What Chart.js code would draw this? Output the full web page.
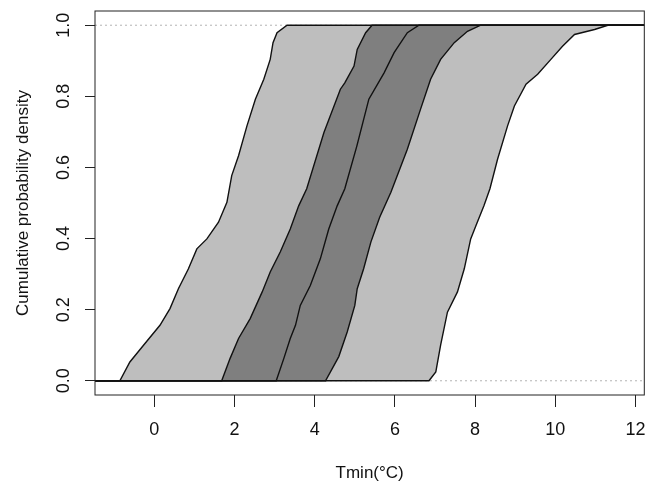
<!DOCTYPE html>
<html>
<head>
<meta charset="utf-8">
<script src="https://cdn.jsdelivr.net/npm/chart.js@4.4.0/dist/chart.umd.min.js"></script>
<style>
  html, body { margin: 0; padding: 0; background: #fff; }
  #wrap { width: 646px; height: 482px; position: relative; }
</style>
</head>
<body>
<div id="wrap"><canvas id="chart"></canvas></div>
<script>
const X_MIN = -1.48, X_MAX = 12.22;
const Y_MIN = -0.04, Y_MAX = 1.04;
const X_TICKS = [0, 2, 4, 6, 8, 10, 12];
const Y_TICKS = [0, 0.2, 0.4, 0.6, 0.8, 1.0];

// leftmost curve (left edge of the light band)
const curveAX = [-0.86, -0.61, -0.27, 0.14, 0.39, 0.60, 0.85, 1.06, 1.31, 1.60, 1.81, 1.93, 2.10, 2.31, 2.52, 2.73, 2.89, 2.96, 3.06, 3.31];
const curveAY = [0.0, 0.053, 0.10, 0.156, 0.203, 0.259, 0.315, 0.371, 0.399, 0.446, 0.502, 0.577, 0.633, 0.717, 0.792, 0.848, 0.904, 0.951, 0.979, 1.0];

// left edge of the dark band
const curveBX = [1.68, 1.89, 2.10, 2.39, 2.69, 2.89, 3.14, 3.39, 3.60, 3.80, 4.23, 4.64, 4.75, 4.98, 5.06, 5.27, 5.43];
const curveBY = [0.0, 0.063, 0.119, 0.175, 0.25, 0.306, 0.362, 0.427, 0.492, 0.54, 0.698, 0.82, 0.838, 0.885, 0.932, 0.979, 1.0];

// middle curve
const curveCX = [3.04, 3.23, 3.39, 3.52, 3.64, 3.89, 4.14, 4.35, 4.56, 4.75, 5.05, 5.35, 5.73, 5.98, 6.31, 6.60];
const curveCY = [0.0, 0.063, 0.119, 0.156, 0.212, 0.268, 0.343, 0.427, 0.492, 0.54, 0.66, 0.792, 0.866, 0.923, 0.979, 1.0];

// right edge of the dark band
const curveDX = [4.27, 4.60, 4.81, 5.00, 5.06, 5.22, 5.40, 5.62, 5.90, 6.31, 6.64, 6.89, 7.14, 7.48, 7.81, 8.14];
const curveDY = [0.0, 0.068, 0.137, 0.212, 0.259, 0.315, 0.39, 0.46, 0.53, 0.651, 0.764, 0.848, 0.904, 0.951, 0.983, 1.0];

// rightmost curve (right edge of the light band)
const curveEX = [6.85, 7.02, 7.14, 7.31, 7.56, 7.73, 7.89, 8.02, 8.22, 8.37, 8.56, 8.81, 8.98, 9.27, 9.56, 9.89, 10.18, 10.48, 10.98, 11.31];
const curveEY = [0.0, 0.025, 0.10, 0.193, 0.25, 0.315, 0.399, 0.436, 0.492, 0.54, 0.623, 0.717, 0.773, 0.834, 0.862, 0.904, 0.941, 0.974, 0.988, 1.0];

const FONT = '"Liberation Sans", Arial, Helvetica, sans-serif';

// ecdf is 0 left of the data and 1 right of it
function ecdfPoints(xs, ys) {
    const pts = [{ x: X_MIN, y: 0 }];
    xs.forEach((x, i) => pts.push({ x: x, y: ys[i] }));
    pts.push({ x: X_MAX, y: 1 });
    return pts;
}

function curve(xs, ys, fill, color) {
    return {
        data: ecdfPoints(xs, ys),
        borderColor: '#111',
        borderWidth: 1.4,
        backgroundColor: color || 'transparent',
        fill: fill
    };
}

function refLine(y) {
    return {
        data: [{ x: X_MIN, y: y }, { x: X_MAX, y: y }],
        borderColor: '#b3b3b3',
        borderWidth: 1,
        borderDash: [2, 3],
        fill: false
    };
}

const plotBox = {
    id: 'plotBox',
    afterDraw(chart) {
        const { ctx, chartArea: a } = chart;
        ctx.save();
        ctx.strokeStyle = '#222';
        ctx.lineWidth = 1;
        ctx.strokeRect(a.left, a.top, a.right - a.left, a.bottom - a.top);
        ctx.restore();
    }
};

const config = {
    type: 'line',
    data: {
        datasets: [
            curve(curveCX, curveCY, false),
            curve(curveBX, curveBY, 2, '#7f7f7f'),
            curve(curveDX, curveDY, false),
            curve(curveAX, curveAY, 4, '#bebebe'),
            curve(curveEX, curveEY, false),
            refLine(0),
            refLine(1)
        ]
    },
    options: {
        responsive: true,
        maintainAspectRatio: false,
        animation: false,
        layout: { padding: { top: 11, right: 1.7, left: 0, bottom: 0 } },
        elements: { point: { radius: 0 }, line: { tension: 0 } },
        plugins: {
            legend: { display: false },
            tooltip: { enabled: false },
            filler: { drawTime: 'beforeDatasetsDraw' }
        },
        scales: {
            x: {
                type: 'linear',
                min: X_MIN,
                max: X_MAX,
                afterBuildTicks: s => { s.ticks = X_TICKS.map(v => ({ value: v })); },
                afterFit: s => { s.height = 87; s.paddingLeft = 0; s.paddingRight = 0; },
                border: { display: false },
                grid: { drawOnChartArea: false, drawTicks: true, tickLength: 12, tickColor: '#222' },
                ticks: { padding: 12, color: '#111', font: { family: FONT, size: 18 } },
                title: {
                    display: true,
                    text: 'Tmin(°C)',
                    color: '#111',
                    font: { family: FONT, size: 17, lineHeight: 1 },
                    padding: { top: 0, bottom: 0 }
                }
            },
            y: {
                type: 'linear',
                min: Y_MIN,
                max: Y_MAX,
                afterBuildTicks: s => { s.ticks = Y_TICKS.map(v => ({ value: v })); },
                afterFit: s => { s.width = 95; s.paddingTop = 0; s.paddingBottom = 0; },
                border: { display: false },
                grid: { drawOnChartArea: false, drawTicks: true, tickLength: 10, tickColor: '#222' },
                ticks: {
                    minRotation: 90,
                    maxRotation: 90,
                    crossAlign: 'center',
                    padding: 8,
                    color: '#111',
                    font: { family: FONT, size: 18 },
                    callback: v => v.toFixed(1)
                },
                title: {
                    display: true,
                    text: 'Cumulative probability density',
                    color: '#111',
                    font: { family: FONT, size: 17, lineHeight: 1 },
                    padding: { top: 14.5, bottom: 0 }
                }
            }
        }
    },
    plugins: [plotBox]
};

new Chart(document.getElementById('chart'), config);
</script>
</body>
</html>
